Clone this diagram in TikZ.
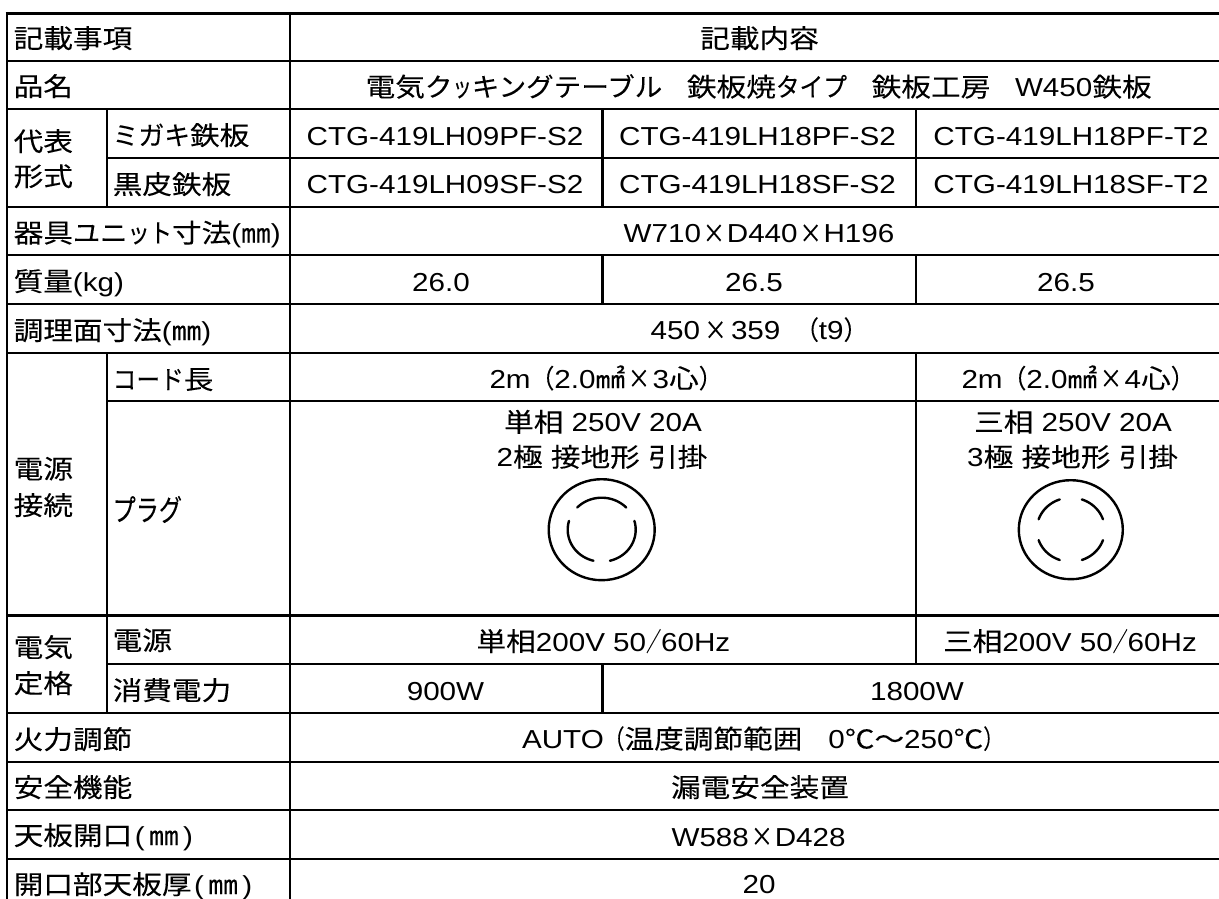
\documentclass[tikz,border=0pt]{standalone}
\usepackage{fontspec}
\usepackage{graphicx}
\usetikzlibrary{shapes.geometric}
\setmainfont[FakeStretch=1.14]{Liberation Sans}
\newfontfamily\cjk[FakeStretch=1.14,FakeBold=0.1]{Noto Sans CJK JP}
\newcommand\J[1]{{\cjk #1}}
\newcommand\nar[2]{\scalebox{#1}[1]{\cjk #2}}
\tikzset{
  lbl/.style={anchor=base west,inner sep=0pt,font=\fontsize{26}{30}\selectfont},
  ctr/.style={anchor=base,inner sep=0pt,font=\fontsize{26}{30}\selectfont},
  thick rule/.style={line width=3pt,line cap=butt},
  rule/.style={line width=2.3pt,line cap=butt},
  vrule/.style={line width=2.6pt,line cap=butt},
  plugline/.style={line width=2.4pt,line cap=round}
}
\newcommand\ringarc[4]{\draw[plugline] plot[domain=#3:#4,samples=30,smooth] ({#1+34*cos(\x)},{#2-32*sin(\x)});}
\begin{document}
\begin{tikzpicture}[x=1pt,y=-1pt]
\useasboundingbox (0,0) rectangle (1219,899);
\fill[white] (0,0) rectangle (1219,899);
% horizontal rules
\draw[thick rule] (5.7,13.5) -- (1219,13.5);
\foreach \yy in {61,109,207,255,304,353,615.5,713,762,810,859}{\draw[rule] (7,\yy) -- (1219,\yy);}
\foreach \yy in {158,401,664}{\draw[rule] (107,\yy) -- (1219,\yy);}
% vertical rules
\draw[vrule] (7,12) -- (7,899);
\draw[vrule] (289.8,12) -- (289.8,899);
\draw[vrule] (107,109) -- (107,207);
\draw[vrule] (107,353) -- (107,713);
\foreach \xx in {602.7,915.8}{
  \draw[vrule] (\xx,109) -- (\xx,207);
  \draw[vrule] (\xx,255) -- (\xx,304);
}
\draw[vrule] (915.8,353) -- (915.8,664);
\draw[vrule] (602.7,664) -- (602.7,713);
% first column
\node[lbl] (a1) at (13.5,48) {\J{記載事項}};
\node[lbl] (a2) at (13.5,96) {\J{品名}};
\node[lbl] (a3) at (13.5,151) {\J{代表}};
\node[lbl] (a4) at (13.5,186) {\J{形式}};
\node[lbl] (a5) at (13.5,242.5) {\J{器具}\nar{.92}{ユニ}\nar{.75}{ット}\J{寸法}(\J{㎜})};
\node[lbl] (a6) at (13.5,291) {\J{質量}(kg)};
\node[lbl] (a7) at (13.5,340) {\J{調理面寸法}(\J{㎜})};
\node[lbl] (a8) at (13.5,478.5) {\J{電源}};
\node[lbl] (a9) at (13.5,515) {\J{接続}};
\node[lbl] (a10) at (13.5,657) {\J{電気}};
\node[lbl] (a11) at (13.5,693) {\J{定格}};
\node[lbl] (a12) at (13.5,749) {\J{火力調節}};
\node[lbl] (a13) at (13.5,797) {\J{安全機能}};
\node[lbl] (a14) at (13.5,845) {\J{天板開口}\hspace{.1em}(\,\J{㎜}\,)};
\node[lbl] (a15) at (13.5,894) {\J{開口部天板厚}\hspace{.1em}(\,\J{㎜}\,)};
% second column
\node[lbl] (b1) at (112.5,145) {\nar{.87}{ミガキ}\J{鉄板}};
\node[lbl] (b2) at (112.5,194) {\J{黒皮鉄板}};
\node[lbl] (b3) at (112.5,389) {\nar{.8}{コード}\J{長}};
\node[lbl] (b4) at (112.5,521) {\scalebox{.78}[1.15]{\cjk プラグ}};
\node[lbl] (b5) at (112.5,650) {\J{電源}};
\node[lbl] (b6) at (112.5,700) {\J{消費電力}};
% content
\node[ctr] (c1) at (759.5,48) {\J{記載内容}};
\node[ctr] (c2) at (758.7,96.5) {\J{電気}\nar{.93}{ク\scalebox{.7}[1]{ッ}キングテーブル}\hspace{.95em}\J{鉄板焼}\nar{.8}{タイプ}\hspace{.95em}\J{鉄板工房}\hspace{.95em}W450\J{鉄板}};
\node[ctr] (d1) at (445,145.7) {CTG-419LH09PF-S2};
\node[ctr] (d2) at (757.5,145.7) {CTG-419LH18PF-S2};
\node[ctr] (d3) at (1071,145.7) {CTG-419LH18PF-T2};
\node[ctr] (d4) at (445,193.5) {CTG-419LH09SF-S2};
\node[ctr] (d5) at (757.5,193.5) {CTG-419LH18SF-S2};
\node[ctr] (d6) at (1071,193.5) {CTG-419LH18SF-T2};
\node[ctr] (e1) at (759,242.7) {W710\hspace{.07em}\nar{.75}{×}\hspace{.07em}D440\hspace{.07em}\nar{.75}{×}\hspace{.07em}H196};
\node[ctr] (f1) at (441,291.5) {26.0};
\node[ctr] (f2) at (754,291.5) {26.5};
\node[ctr] (f3) at (1066,291.5) {26.5};
\node[ctr] (g1) at (759,339.5) {450\,\nar{.75}{×}\,359 \hspace{.25em}\nar{.8}{（}t9\nar{.8}{）}};
\node[ctr] (h1) at (606,388) {2m\nar{.8}{（}2.0\J{㎟}\hspace{.1em}\nar{.75}{×}\hspace{.1em}3\J{心}\nar{.8}{）}};
\node[ctr] (h2) at (1078,388) {2m\nar{.8}{（}2.0\J{㎟}\hspace{.1em}\nar{.75}{×}\hspace{.1em}4\J{心}\nar{.8}{）}};
\node[ctr] (i1) at (603,431.7) {\J{単相} 250V 20A};
\node[ctr] (i2) at (602,466.7) {2\J{極} \J{接地形} \J{引掛}};
\node[ctr] (i3) at (1073,431.7) {\J{三相} 250V 20A};
\node[ctr] (i4) at (1072.6,466.7) {3\J{極} \J{接地形} \J{引掛}};
\node[ctr] (j1) at (603.4,651) {\J{単相}200V 50\nar{.5}{／}60Hz};
\node[ctr] (j2) at (1070,651) {\J{三相}200V 50\nar{.5}{／}60Hz};
\node[ctr] (k1) at (445.5,700.5) {900W};
\node[ctr] (k2) at (917,700.5) {1800W};
\node[ctr] (l1) at (763,748.5) {AUTO\nar{.7}{（}\J{温度調節範囲}\hspace{1em}0\J{℃}\J{～}250\J{℃}\nar{.7}{）}};
\node[ctr] (m1) at (760,797) {\J{漏電安全装置}};
\node[ctr] (n1) at (758.6,846) {W588\hspace{.07em}\nar{.75}{×}\hspace{.07em}D428};
\node[ctr] (o1) at (759,893) {20};
% plug faces
\node[draw,ellipse,line width=2.4pt,minimum width=106pt,minimum height=101pt,inner sep=0pt] (p1) at (601.7,529.7) {};
\ringarc{601.7}{529.7}{44}{136}
\ringarc{601.7}{529.7}{164}{256}
\ringarc{601.7}{529.7}{284}{376}
\node[draw,ellipse,line width=2.4pt,minimum width=104pt,minimum height=99pt,inner sep=0pt] (p2) at (1070.8,529.7) {};
\ringarc{1070.8}{529.7}{19}{71}
\ringarc{1070.8}{529.7}{109}{161}
\ringarc{1070.8}{529.7}{199}{251}
\ringarc{1070.8}{529.7}{289}{341}
\end{tikzpicture}
\end{document}
